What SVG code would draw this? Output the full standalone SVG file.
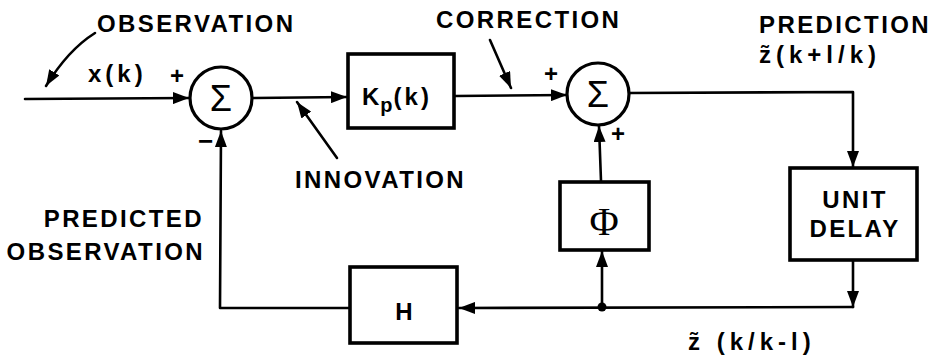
<svg xmlns="http://www.w3.org/2000/svg" width="930" height="358" viewBox="0 0 930 358">
<defs>
<style>
.ln{fill:none;stroke:#000;stroke-width:2.6;stroke-linecap:round;stroke-linejoin:round}
.bx{fill:#fff;stroke:#000;stroke-width:3.6}
.ci{fill:#fff;stroke:#000;stroke-width:3.2}
.t{font-family:"Liberation Sans",Arial,sans-serif;font-weight:bold;font-size:24px;letter-spacing:2.4px;fill:#000}
.s{font-family:"Liberation Sans",Arial,sans-serif;font-size:36px;fill:#000;text-anchor:middle}
</style>
<marker id="ah" markerUnits="userSpaceOnUse" markerWidth="18" markerHeight="12" refX="16" refY="6" orient="auto">
<path d="M0,0 L16,6 L0,12 Z" fill="#000"/>
</marker>
</defs>
<g id="connectors">
<path class="ln" d="M25,99 L189,98" marker-end="url(#ah)"/>
<path class="ln" d="M253,98 L347,97" marker-end="url(#ah)"/>
<path class="ln" d="M455,96 L567,95" marker-end="url(#ah)"/>
<path class="ln" d="M629,93 L853,92 L853,167" marker-end="url(#ah)"/>
<path class="ln" d="M853,261 L853,307" marker-end="url(#ah)"/>
<path class="ln" d="M853,307 L459,308" marker-end="url(#ah)"/>
<path class="ln" d="M602,307 L602,251" marker-end="url(#ah)"/>
<path class="ln" d="M601,181 L599,126" marker-end="url(#ah)"/>
<path class="ln" d="M349,308 L220,308 L221,131" marker-end="url(#ah)"/>
<circle cx="602" cy="307" r="4.5" fill="#000"/>
<path class="ln" d="M95,33 Q68,50 46,86" marker-end="url(#ah)"/>
<path class="ln" d="M337,158 L297,102" marker-end="url(#ah)"/>
<path class="ln" d="M490,40 L511,88" marker-end="url(#ah)"/>
</g>
<g id="sum1">
<circle class="ci" cx="221" cy="98" r="31"/>
<text class="s" x="221" y="111">Σ</text>
</g>
<g id="kp">
<rect class="bx" x="348" y="54" width="106" height="74"/>
<text class="t" x="362" y="105" style="letter-spacing:1px">K<tspan font-size="20" dy="7">p</tspan><tspan dy="-7" style="letter-spacing:3px">(k)</tspan></text>
</g>
<g id="sum2">
<circle class="ci" cx="598" cy="94" r="31"/>
<text class="s" x="598" y="107">Σ</text>
</g>
<g id="unitdelay">
<rect class="bx" x="790" y="168" width="127" height="92"/>
<text class="t" x="855" y="208" text-anchor="middle">UNIT</text>
<text class="t" x="855" y="237" text-anchor="middle">DELAY</text>
</g>
<g id="phi">
<rect class="bx" x="560" y="182" width="89" height="68"/>
<text x="604" y="235" text-anchor="middle" style="font-family:'Liberation Serif',serif;font-size:40px;fill:#000">Φ</text>
</g>
<g id="h">
<rect class="bx" x="350" y="267" width="107" height="76"/>
<text class="t" x="405" y="320" text-anchor="middle">H</text>
</g>
<g id="labels">
<text class="t" x="97" y="32">OBSERVATION</text>
<text class="t" x="88" y="82" style="letter-spacing:4px">x(k)</text>
<text class="t" x="170" y="84">+</text>
<text class="t" x="198" y="150" style="font-size:26px">−</text>
<text class="t" x="295" y="188">INNOVATION</text>
<text class="t" x="436" y="28">CORRECTION</text>
<text class="t" x="544" y="82">+</text>
<text class="t" x="611" y="142">+</text>
<text class="t" x="759" y="33">PREDICTION</text>
<text class="t" x="759" y="63" style="letter-spacing:5px">z̃(k+l/k)</text>
<text class="t" x="204" y="227" text-anchor="end">PREDICTED</text>
<text class="t" x="205" y="260" text-anchor="end">OBSERVATION</text>
<text class="t" x="688" y="350" style="letter-spacing:5px">z̃ (k/k-l)</text>
</g>
</svg>
